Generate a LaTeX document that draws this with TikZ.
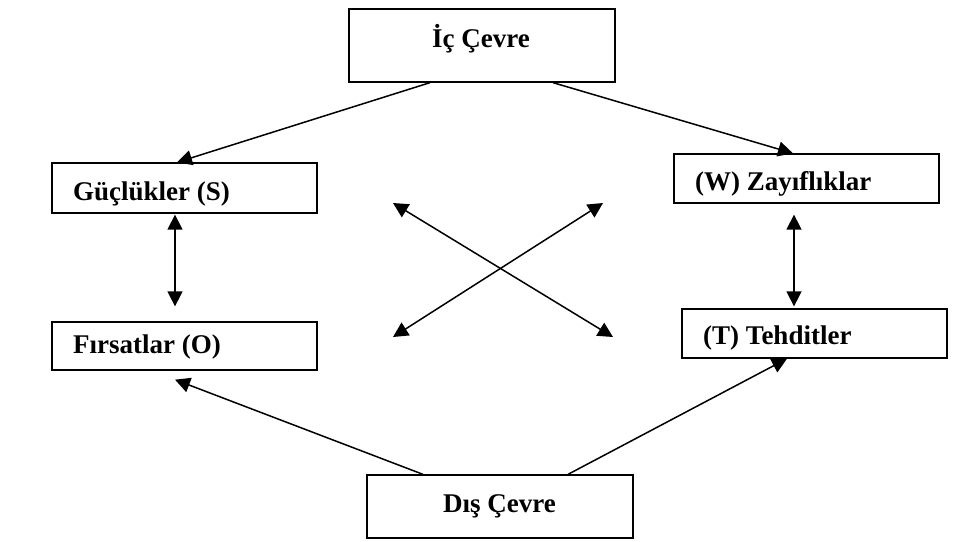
\documentclass[tikz,border=0pt]{standalone}
\usepackage{fontspec}
\setmainfont{Liberation Serif}
\usetikzlibrary{arrows.meta}
\begin{document}
\begin{tikzpicture}[x=1pt,y=-1pt,
  box/.style={draw,line width=1.3pt,rectangle,inner sep=0pt},
  lbl/.style={inner sep=0pt,font=\fontsize{27}{32}\selectfont\bfseries},
  tip/.style={Triangle[length=15pt,width=15pt]},
  arr/.style={line width=1.5pt,-{Triangle[length=15pt,width=15pt]}},
  darr/.style={line width=1.5pt,{Triangle[length=15pt,width=15pt]}-{Triangle[length=15pt,width=15pt]}}]
\useasboundingbox (0,0) rectangle (979,541);
% top and bottom boxes
\node[box,minimum width=266pt,minimum height=73pt] (ic) at (482,45.5) {};
\node[lbl,anchor=base] (ict) at (481,47) {İç Çevre};
\node[box,minimum width=266pt,minimum height=63pt] (dis) at (500,506.5) {};
\node[lbl,anchor=base] (dist) at (499.5,512) {Dış Çevre};
% side boxes
\node[box,minimum width=265pt,minimum height=50pt] (g) at (184.5,188) {};
\node[lbl,anchor=base west] (gt) at (73,200) {Güçlükler (S)};
\node[box,minimum width=265pt,minimum height=48pt] (f) at (184.5,346) {};
\node[lbl,anchor=base west] (ft) at (73,353) {Fırsatlar (O)};
\node[box,minimum width=265pt,minimum height=49pt] (z) at (806.5,178.5) {};
\node[lbl,anchor=base west] (zt) at (695,190) {(W) Zayıflıklar};
\node[box,minimum width=265pt,minimum height=49pt] (t) at (814.5,333.5) {};
\node[lbl,anchor=base west] (tt) at (703,344) {(T) Tehditler};
% connectors
\draw[arr] ([xshift=-52pt]ic.south) -- ([xshift=-7.5pt]g.north);
\draw[arr] ([xshift=71pt]ic.south) -- ([xshift=-13.5pt]z.north);
\draw[darr] ([xshift=-9.5pt,yshift=-1pt]g.south) -- ([xshift=-9.5pt,yshift=15pt]f.north);
\draw[darr] ([xshift=-12.5pt,yshift=-11pt]z.south) -- ([xshift=-20.5pt,yshift=2pt]t.north);
\draw[arr] ([xshift=-77pt]dis.north) -- ([xshift=-9.5pt,yshift=-9pt]f.south);
\draw[arr] ([xshift=68pt]dis.north) -- ([xshift=-27.5pt]t.south);
% cross arrows
\coordinate (c1) at (393,203);
\coordinate (c2) at (613,337);
\coordinate (c3) at (603,203);
\coordinate (c4) at (393,337);
\draw[darr] (c1) -- (c2);
\draw[darr] (c3) -- (c4);
\end{tikzpicture}
\end{document}
